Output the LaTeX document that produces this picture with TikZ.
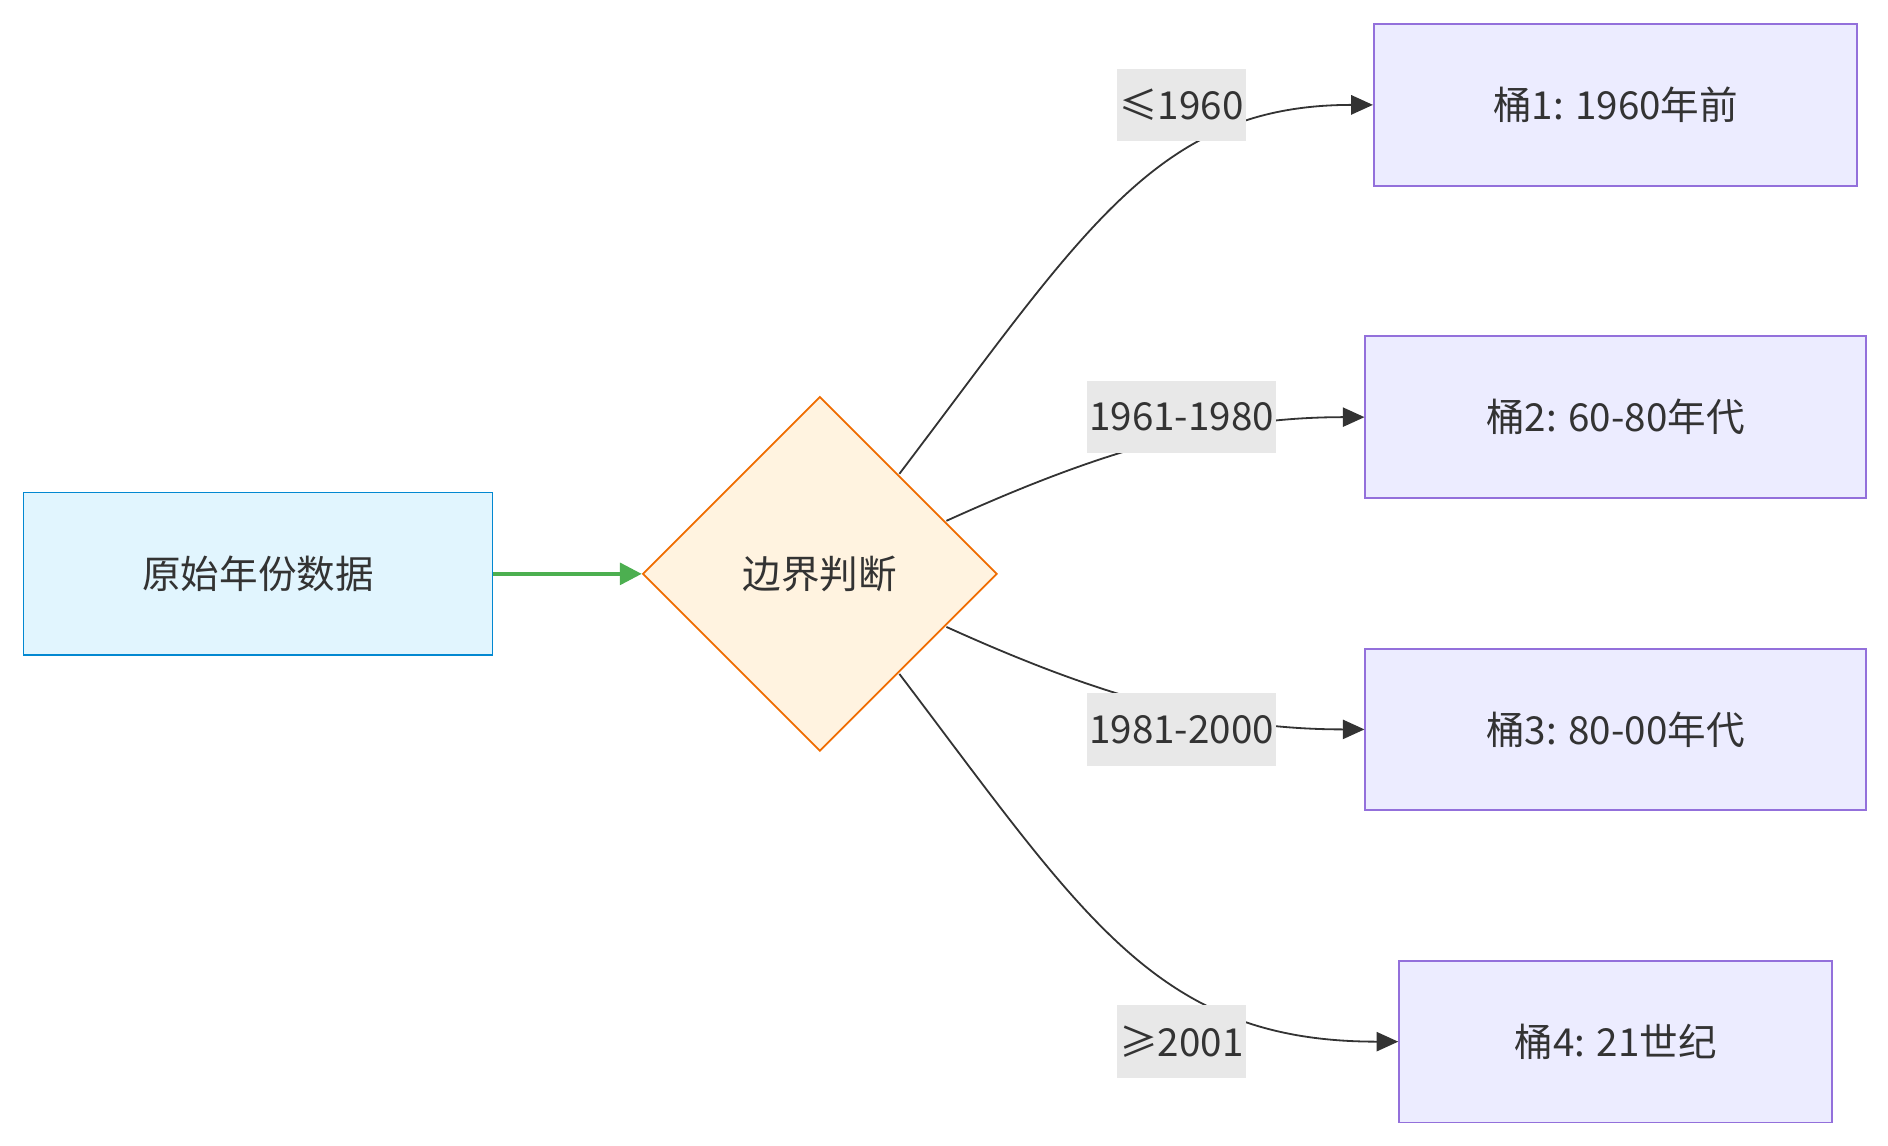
\documentclass[tikz,border=0pt]{standalone}
\usepackage{fontspec}
\setmainfont{Noto Sans CJK SC}
\usetikzlibrary{shapes.geometric,arrows.meta}
\definecolor{srcfill}{HTML}{E1F5FE}\definecolor{srcline}{HTML}{0288D1}
\definecolor{dfill}{HTML}{FFF3E0}\definecolor{dline}{HTML}{EF6C00}
\definecolor{bfill}{HTML}{ECECFF}\definecolor{bline}{HTML}{9370DB}
\definecolor{lab}{HTML}{E8E8E8}\definecolor{txt}{HTML}{333333}
\definecolor{grn}{HTML}{4CAF50}
\tikzset{
 bucket/.style={draw=bline,fill=bfill,line width=1.5pt,minimum height=134pt,text=txt,font=\fontsize{32}{36}\selectfont},
 elabel/.style={fill=lab,text=txt,inner sep=2pt,minimum height=60pt,font=\fontsize{32}{36}\selectfont},
 conn/.style={draw=txt,line width=1.5pt,-{Triangle[length=18pt,width=16pt]}}
}
\begin{document}
\begin{tikzpicture}[x=1pt,y=-1pt]
\useasboundingbox (0,0) rectangle (1566,950);
\node[draw=srcline,fill=srcfill,line width=1.5pt,minimum width=389pt,minimum height=135pt,text=txt,font=\fontsize{32}{36}\selectfont] (src) at (214,476) {原始年份数据};
\node[diamond,draw=dline,fill=dfill,line width=1.5pt,minimum width=294pt,minimum height=294pt,inner sep=0pt,text=txt,font=\fontsize{32}{36}\selectfont] (dec) at (680,476) {边界判断};
\node[bucket,minimum width=401pt] (b1) at (1340,87) {桶1: 1960年前};
\node[bucket,minimum width=415pt] (b2) at (1340,346) {桶2: 60-80年代};
\node[bucket,minimum width=415pt] (b3) at (1340,605) {桶3: 80-00年代};
\node[bucket,minimum width=359pt] (b4) at (1340,864) {桶4: 21世纪};
\draw[line width=3pt,grn,-{Triangle[length=18pt,width=18pt]}] (src.east) -- (dec.west);
\coordinate (s1) at (746,393);
\coordinate (s2) at (785,432);
\coordinate (s3) at (785,520);
\coordinate (s4) at (746,559);
\draw[conn] (s1) .. controls (900,190) and (960,87) .. (b1.west);
\draw[conn] (s2) .. controls (900,380) and (1000,346) .. (b2.west);
\draw[conn] (s3) .. controls (900,572) and (1000,605) .. (b3.west);
\draw[conn] (s4) .. controls (900,762) and (960,864) .. (b4.west);
\node[elabel] (l1) at (980,87) {≤1960};
\node[elabel] (l2) at (980,346) {1961-1980};
\node[elabel] (l3) at (980,605) {1981-2000};
\node[elabel] (l4) at (980,864) {≥2001};
\end{tikzpicture}
\end{document}
